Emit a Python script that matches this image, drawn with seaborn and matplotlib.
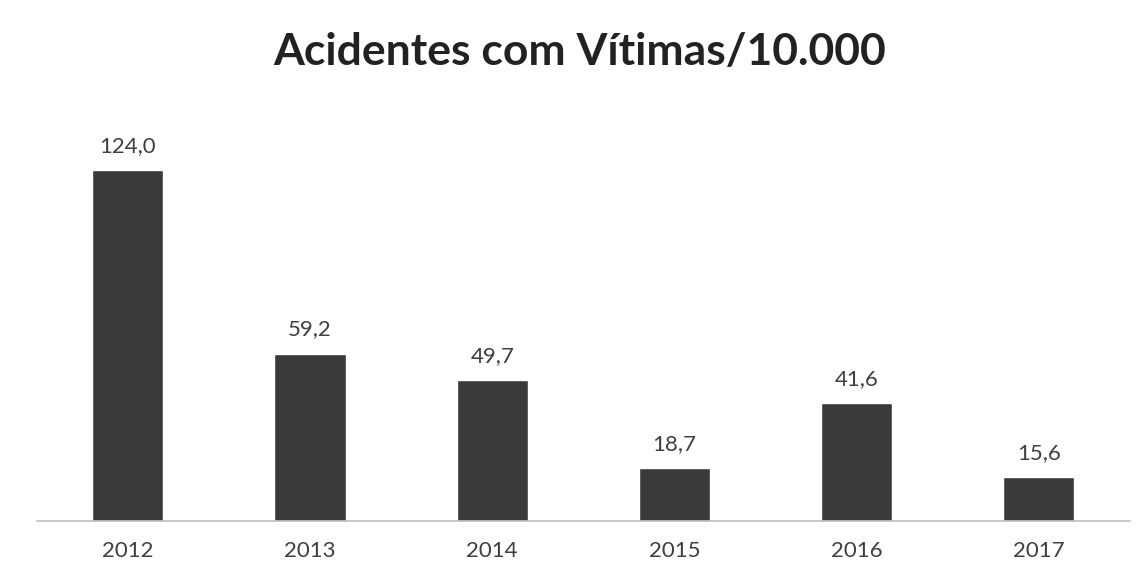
import matplotlib
matplotlib.use("Agg")
import matplotlib.pyplot as plt
import seaborn as sns
import pandas as pd

years = ["2012", "2013", "2014", "2015", "2016", "2017"]
values = [124.0, 59.2, 49.7, 18.7, 41.6, 15.6]
title = "Acidentes com Vítimas/10.000"

sns.set_theme(style="white")
plt.rcParams['font.family'] = ['Lato', 'DejaVu Sans']

df = pd.DataFrame({"ano": years, "valor": values})
fig = plt.figure(figsize=(11.46, 5.83), dpi=100)
ax = fig.add_axes([0.032, 0.106, 0.954, 0.68])
sns.barplot(data=df, x="ano", y="valor", color="#3a3a3a", width=0.39,
            saturation=1, ax=ax)
ax.set_ylim(0, 140)
ax.set_xlim(-0.5, 5.5)
for i, v in enumerate(values):
    ax.text(i, v + 5, f"{v:.1f}".replace(".", ","), ha="center", va="bottom",
            fontsize=16, color="#3f3f3f")
ax.set_yticks([])
ax.set_xlabel("")
ax.set_ylabel("")
ax.tick_params(axis="x", labelsize=16, colors="#3f3f3f", length=0, pad=14)
for s in ["top", "right", "left"]:
    ax.spines[s].set_visible(False)
ax.spines["bottom"].set_color("#bfbfbf")
ax.spines["bottom"].set_linewidth(1.2)
fig.text(0.506, 0.911, title, ha="center", va="center", fontsize=32,
         fontweight="bold", color="#222222")
fig.savefig("out.png", dpi=100, facecolor="white")
